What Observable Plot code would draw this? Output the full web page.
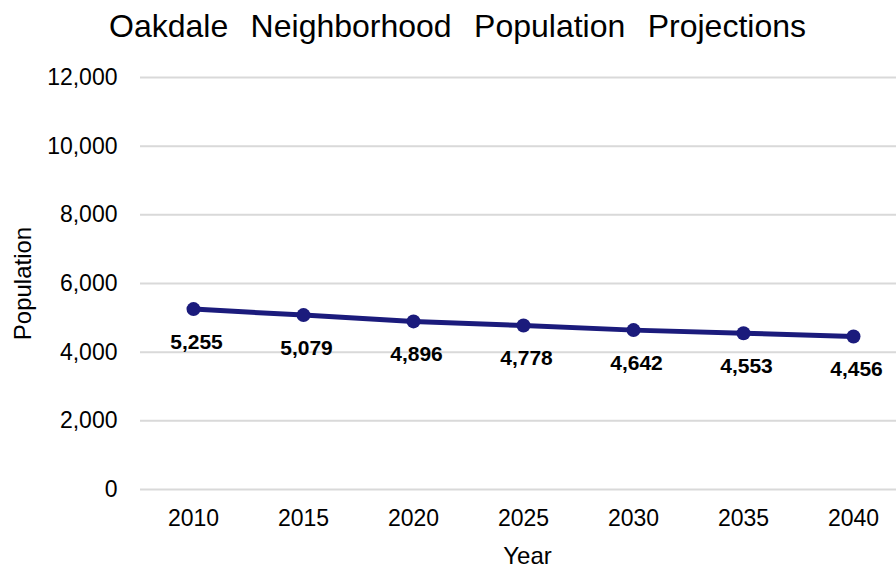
<!DOCTYPE html>
<html>
<head>
<meta charset="utf-8">
<script src="https://cdn.jsdelivr.net/npm/d3@7"></script>
<script src="https://cdn.jsdelivr.net/npm/@observablehq/plot@0.6"></script>
<style>
  html, body { margin: 0; padding: 0; background: #fff; }
  #title {
    width: 896px; height: 55px; box-sizing: border-box; padding-left: 19px;
    font-family: "Liberation Sans", Arial, sans-serif; font-size: 32px;
    line-height: 52px; text-align: center; color: #000; word-spacing: 13.5px;
    white-space: nowrap;
  }
  svg { display: block; }
</style>
</head>
<body>
<div id="title">Oakdale Neighborhood Population Projections</div>
<div id="chart"></div>
<script>
const years = ["2010", "2015", "2020", "2025", "2030", "2035", "2040"];
const population = [5255, 5079, 4896, 4778, 4642, 4553, 4456];
const yTicks = [0, 2000, 4000, 6000, 8000, 10000, 12000];

const data = years.map((y, i) => ({year: y, pop: population[i]}));
const fmt = d3.format(",");
const navy = "#1b1b7c";

const chart = Plot.plot({
  width: 896,
  height: 512,
  marginLeft: 140,
  marginRight: 0,
  marginTop: 22,
  marginBottom: 78,
  style: {fontFamily: "'Liberation Sans', Arial, sans-serif", fontSize: "23px", color: "#000", background: "#fff"},
  x: {type: "point", domain: years, padding: 0, insetLeft: 53, insetRight: 43, label: null},
  y: {domain: [0, 12000], label: null},
  marks: [
    Plot.ruleY(yTicks, {stroke: "#d9d9d9", strokeWidth: 2}),
    Plot.axisY({ticks: yTicks, tickFormat: fmt, tickSize: 0, tickPadding: 23, fontSize: 23, label: null}),
    Plot.axisX({tickSize: 0, tickPadding: 20, fontSize: 23, label: null}),
    Plot.line(data, {x: "year", y: "pop", stroke: navy, strokeWidth: 5}),
    Plot.dot(data, {x: "year", y: "pop", r: 7, fill: navy}),
    Plot.text(data, {x: "year", y: "pop", text: d => fmt(d.pop), dy: 33, dx: 3, fontSize: 21, fontWeight: "bold", fill: "#000"}),
    Plot.text(["Population"], {frameAnchor: "left", textAnchor: "middle", dx: -117, rotate: -90, fontSize: 24, fill: "#000"}),
    Plot.text(["Year"], {frameAnchor: "bottom", dx: 9, dy: 74, fontSize: 24, fill: "#000"})
  ]
});
document.getElementById("chart").appendChild(chart);
</script>
</body>
</html>
